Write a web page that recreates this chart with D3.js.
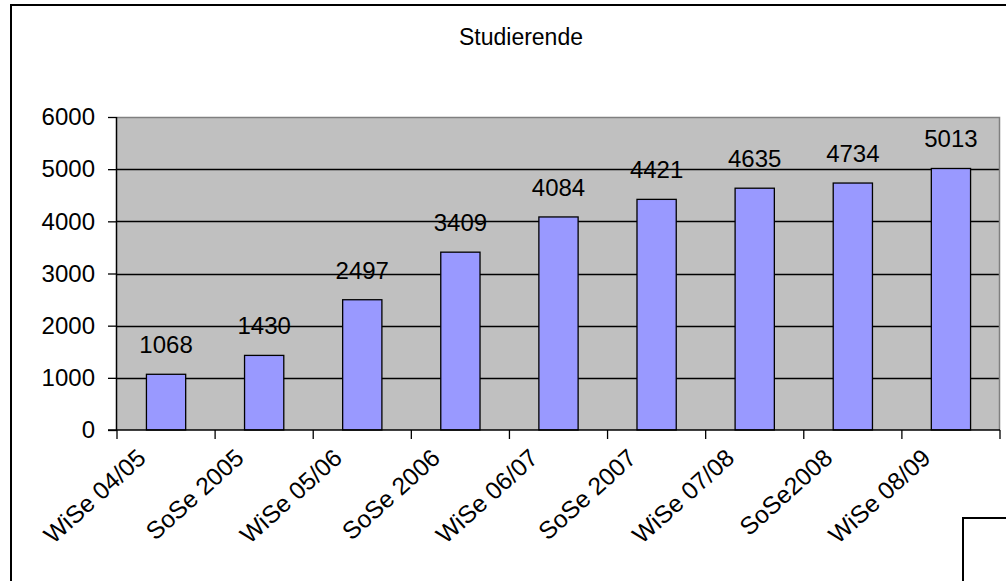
<!DOCTYPE html>
<html>
<head>
<meta charset="utf-8">
<script src="https://cdn.jsdelivr.net/npm/d3@7"></script>
<style>
  html, body { margin: 0; padding: 0; background: #fff; }
  svg { display: block; }
  text { font-family: "Liberation Sans", Arial, sans-serif; fill: #000; }
</style>
</head>
<body>
<svg id="chart" width="1006" height="581"></svg>
<script>
const title = "Studierende";
const categories = ["WiSe 04/05", "SoSe 2005", "WiSe 05/06", "SoSe 2006", "WiSe 06/07", "SoSe 2007", "WiSe 07/08", "SoSe2008", "WiSe 08/09"];
const values = [1068, 1430, 2497, 3409, 4084, 4421, 4635, 4734, 5013];
const yTicks = [0, 1000, 2000, 3000, 4000, 5000, 6000];

const svg = d3.select("#chart");
const plot = { left: 117, right: 1000, top: 117, bottom: 430 };

// outer chart border (extends beyond the canvas on right/bottom)
svg.append("rect")
  .attr("x", 11).attr("y", 5)
  .attr("width", 1100).attr("height", 700)
  .attr("fill", "#fff").attr("stroke", "#000").attr("stroke-width", 2);

// title
svg.append("text")
  .attr("x", 583).attr("y", 45)
  .attr("text-anchor", "end")
  .style("font-size", "23px")
  .text(title);

const xCat = d3.scaleBand().domain(categories).range([plot.left, plot.right]).padding(0);
const xBar = d3.scaleBand().domain(categories).range([plot.left, plot.right])
  .paddingInner(0.6).paddingOuter(0.3);
const y = d3.scaleLinear().domain([0, 6000]).range([plot.bottom, plot.top]);

// plot background
svg.append("rect")
  .attr("x", plot.left).attr("y", plot.top)
  .attr("width", plot.right - plot.left).attr("height", plot.bottom - plot.top)
  .attr("fill", "#C0C0C0");

// gridlines
svg.append("g").selectAll("line")
  .data(yTicks.filter(t => t > 0 && t < 6000))
  .join("line")
  .attr("x1", plot.left).attr("x2", plot.right)
  .attr("y1", d => Math.round(y(d)) + 0.5).attr("y2", d => Math.round(y(d)) + 0.5)
  .attr("stroke", "#000").attr("stroke-width", 1.3);

// plot border top/right gray
svg.append("path")
  .attr("d", `M${plot.left},${plot.top + 0.5}H${plot.right - 0.5}V${plot.bottom}`)
  .attr("fill", "none").attr("stroke", "#808080").attr("stroke-width", 1.5);

// bars
svg.append("g").selectAll("rect")
  .data(values)
  .join("rect")
  .attr("x", (d, i) => xBar(categories[i]))
  .attr("y", d => y(d))
  .attr("width", xBar.bandwidth())
  .attr("height", d => plot.bottom - y(d))
  .attr("fill", "#9999FF")
  .attr("stroke", "#000").attr("stroke-width", 1.3);

// data labels
svg.append("g").selectAll("text")
  .data(values)
  .join("text")
  .attr("x", (d, i) => xBar(categories[i]) + xBar.bandwidth() / 2)
  .attr("y", d => y(d) - 21)
  .attr("text-anchor", "middle")
  .style("font-size", "24px")
  .text(d => d);

// y axis
const yAxis = d3.axisLeft(y).tickValues(yTicks).tickSize(9).tickPadding(13).tickFormat(d3.format("d"));
const gy = svg.append("g").attr("transform", `translate(${plot.left},0)`).call(yAxis);
gy.select(".domain").attr("stroke", "#000").attr("stroke-width", 1.5).attr("d", `M-0.5,${plot.top}V${plot.bottom}`);
gy.selectAll(".tick line").attr("stroke", "#000").attr("stroke-width", 1.3);
gy.selectAll(".tick text").style("font-size", "24px").style("font-family", "Liberation Sans, Arial, sans-serif").attr("fill", "#000");

// x axis line
svg.append("line")
  .attr("x1", plot.left - 9).attr("x2", plot.right)
  .attr("y1", plot.bottom).attr("y2", plot.bottom)
  .attr("stroke", "#000").attr("stroke-width", 1.5);

// x ticks at category boundaries
const boundaries = categories.map(c => xCat(c)).concat([plot.right]);
svg.append("g").selectAll("line")
  .data(boundaries)
  .join("line")
  .attr("x1", d => d).attr("x2", d => d)
  .attr("y1", plot.bottom).attr("y2", plot.bottom + 9)
  .attr("stroke", "#000").attr("stroke-width", 1.3);

// x labels rotated
svg.append("g").selectAll("text")
  .data(categories)
  .join("text")
  .attr("transform", c => `translate(${xCat(c) + 18.5},447) rotate(-42)`)
  .attr("text-anchor", "end")
  .attr("dy", "0.72em")
  .style("font-size", "24.5px")
  .text(c => c);

// partial legend box at bottom right
svg.append("rect")
  .attr("x", 963).attr("y", 518)
  .attr("width", 200).attr("height", 200)
  .attr("fill", "#fff").attr("stroke", "#000").attr("stroke-width", 2);
</script>
</body>
</html>
